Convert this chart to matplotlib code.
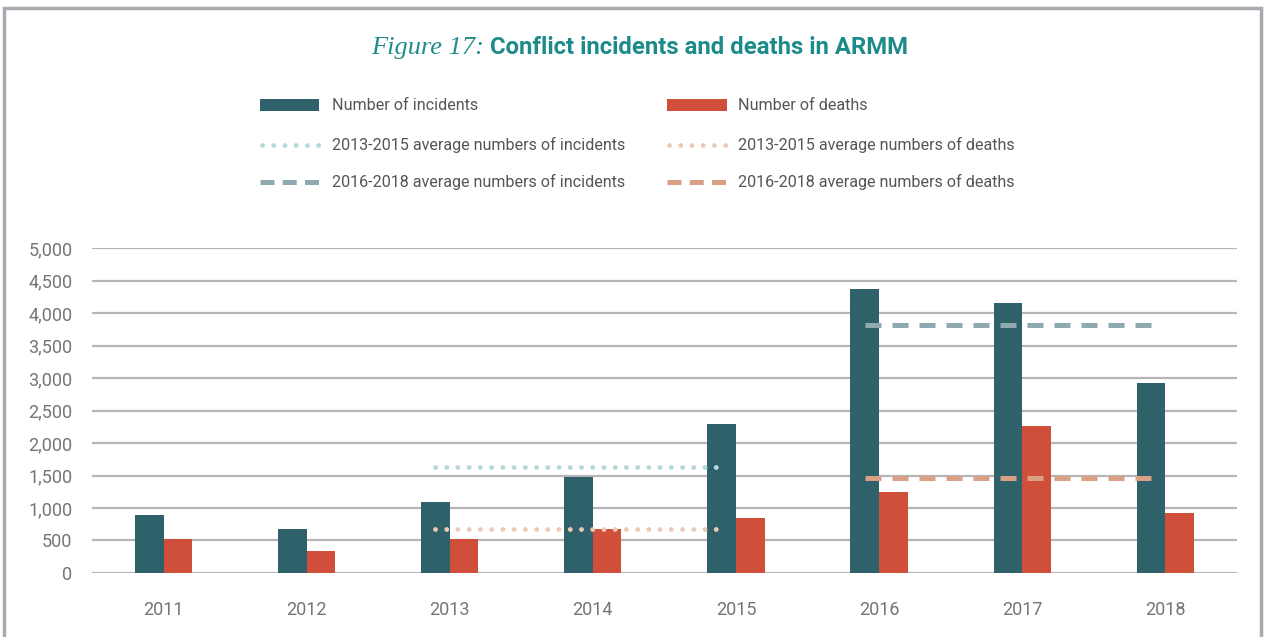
import numpy as np
import matplotlib
matplotlib.use('Agg')
import matplotlib.pyplot as plt
from matplotlib.lines import Line2D
from matplotlib.patches import Rectangle

years = ['2011', '2012', '2013', '2014', '2015', '2016', '2017', '2018']
incidents = [890, 670, 1100, 1480, 2300, 4375, 4160, 2920]
deaths = [530, 345, 530, 670, 845, 1250, 2265, 920]
avg_inc_13_15 = 1625
avg_inc_16_18 = 3815
avg_dea_13_15 = 680
avg_dea_16_18 = 1460

c_inc = '#2e616a'
c_dea = '#cf4f3a'
c_inc_dot = '#b7d9db'
c_inc_dash = '#8eaab0'
c_dea_dot = '#edcab5'
c_dea_dash = '#d9a085'
c_text = '#757575'
c_grid = '#b6b6ba'

plt.rcParams['font.family'] = ['Roboto', 'DejaVu Sans']

fig = plt.figure(figsize=(12.65, 6.37), dpi=100)
fig.patch.set_facecolor('white')

# outer frame
fig.add_artist(Rectangle((0.003, -0.05), 0.994, 1.038, transform=fig.transFigure,
                         fill=False, edgecolor='#a9a9af', linewidth=2.5))

ax = fig.add_axes([0.0727, 0.1005, 0.905, 0.51])
x = np.arange(len(years))
w = 0.2
ax.bar(x - w / 2, incidents, w, color=c_inc, zorder=3)
ax.bar(x + w / 2, deaths, w, color=c_dea, zorder=3)

dot = (0, (0.01, 2.3))
dash = (0, (3.2, 2.2))
ax.plot([2 - w / 2, 4 - w / 2], [avg_inc_13_15] * 2, color=c_inc_dot, lw=3.5,
        linestyle=dot, dash_capstyle='round', zorder=4)
ax.plot([2 - w / 2, 4 - w / 2], [avg_dea_13_15] * 2, color=c_dea_dot, lw=3.5,
        linestyle=dot, dash_capstyle='round', zorder=4)
ax.plot([5 - w / 2, 7 - w / 2 + 0.06], [avg_inc_16_18] * 2, color=c_inc_dash, lw=3.6,
        linestyle=dash, dash_capstyle='butt', zorder=4)
ax.plot([5 - w / 2, 7 - w / 2 + 0.06], [avg_dea_16_18] * 2, color=c_dea_dash, lw=3.6,
        linestyle=dash, dash_capstyle='butt', zorder=4)

ax.set_xlim(-0.5, 7.5)
ax.set_ylim(0, 5000)
ax.set_yticks(np.arange(0, 5001, 500))
ax.set_yticklabels([f'{v:,}' for v in range(0, 5001, 500)])
ax.set_xticks(x)
ax.set_xticklabels(years)
ax.grid(axis='y', color=c_grid, linewidth=1.6, zorder=0)
ax.set_axisbelow(True)
for s in ax.spines.values():
    s.set_visible(False)
ax.tick_params(axis='both', length=0, labelsize=13, colors=c_text)
ax.tick_params(axis='y', pad=14)
ax.tick_params(axis='x', pad=20)

# title
fig.text(0.3826, 0.925, 'Figure 17:', ha='right', va='center', color='#1e8b8b',
         fontsize=19, fontstyle='italic', family=['Liberation Serif', 'DejaVu Serif'])
fig.text(0.3874, 0.925, 'Conflict incidents and deaths in ARMM', ha='left', va='center',
         color='#1e8b8b', fontsize=17.2, fontweight='bold')

# legend drawn by hand
rows = [1 - 105 / 637, 1 - 145 / 637, 1 - 182 / 637]
cols = [(260, 319, 332), (667, 727, 738)]
items = [
    [('Number of incidents', c_inc, 'patch'),
     ('2013-2015 average numbers of incidents', c_inc_dot, dot),
     ('2016-2018 average numbers of incidents', c_inc_dash, dash)],
    [('Number of deaths', c_dea, 'patch'),
     ('2013-2015 average numbers of deaths', c_dea_dot, dot),
     ('2016-2018 average numbers of deaths', c_dea_dash, dash)],
]
W = 1265
for (x0, x1, xt), col in zip(cols, items):
    for y, (label, color, style) in zip(rows, col):
        if style == 'patch':
            fig.add_artist(Rectangle((x0 / W, y - 6 / 637), (x1 - x0) / W, 12 / 637,
                                     transform=fig.transFigure, color=color, lw=0))
        elif style == dot:
            fig.add_artist(Line2D([(x0 + 2) / W, x1 / W], [y, y], transform=fig.transFigure,
                                  color=color, lw=3.5, linestyle=dot, dash_capstyle='round'))
        else:
            fig.add_artist(Line2D([x0 / W, x1 / W], [y, y], transform=fig.transFigure,
                                  color=color, lw=3.6, linestyle=(0, (2.8, 1.65)),
                                  dash_capstyle='butt'))
        fig.text(xt / W, y, label, ha='left', va='center', color='#555555',
                 fontsize=11.6)

fig.savefig('out.png', dpi=100, facecolor='white')
